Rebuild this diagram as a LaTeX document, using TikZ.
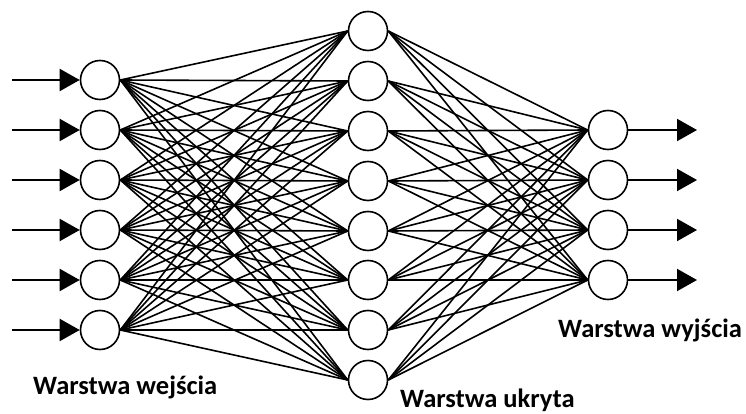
\documentclass[tikz,border=0pt]{standalone}
\usepackage{fontspec}
\setmainfont{Carlito}
\usetikzlibrary{arrows.meta}
\begin{document}
\begin{tikzpicture}[x=1pt,y=-1pt,
  neuron/.style={circle,draw=black,line width=1.6pt,minimum size=39pt,inner sep=0pt,fill=white},
  link/.style={line width=1.6pt,black},
  ioarrow/.style={line width=2pt,-{Triangle[length=20pt,width=22pt]}},
  lbl/.style={font=\fontsize{26.5}{29}\selectfont\bfseries,inner sep=0pt}]
\useasboundingbox (0,0) rectangle (746,414);
% input layer
\foreach \k/\y in {1/80,2/130,3/180,4/230,5/280,6/330}{
  \node[neuron] (i\k) at (100,\y) {};
  \coordinate (a\k) at (12,\y);
}
% hidden layer
\foreach \k/\y in {1/31,2/81,3/131,4/181,5/231,6/280,7/330,8/380}{
  \node[neuron] (h\k) at (368,\y) {};
}
% output layer
\foreach \k/\y in {1/130,2/180,3/230,4/280}{
  \node[neuron] (o\k) at (608,\y) {};
  \coordinate (b\k) at (697,\y);
}
% connections
\foreach \i in {1,...,6}{
  \foreach \h in {1,...,8}{
    \draw[link] (i\i.east) -- (h\h.west);
  }
}
\foreach \h in {1,...,8}{
  \foreach \o in {1,...,4}{
    \draw[link] (h\h.east) -- (o\o.west);
  }
}
% arrows
\foreach \k in {1,...,6}{ \draw[ioarrow] (a\k) -- (i\k.west); }
\foreach \k in {1,...,4}{ \draw[ioarrow] (o\k.east) -- (b\k); }
% labels
\node[lbl,anchor=base west] (lin) at (33,394) {Warstwa wejścia};
\node[lbl,anchor=base west] (lhid) at (400,407) {Warstwa ukryta};
\node[lbl,anchor=base west] (lout) at (558,337) {Warstwa wyjścia};
\end{tikzpicture}
\end{document}
